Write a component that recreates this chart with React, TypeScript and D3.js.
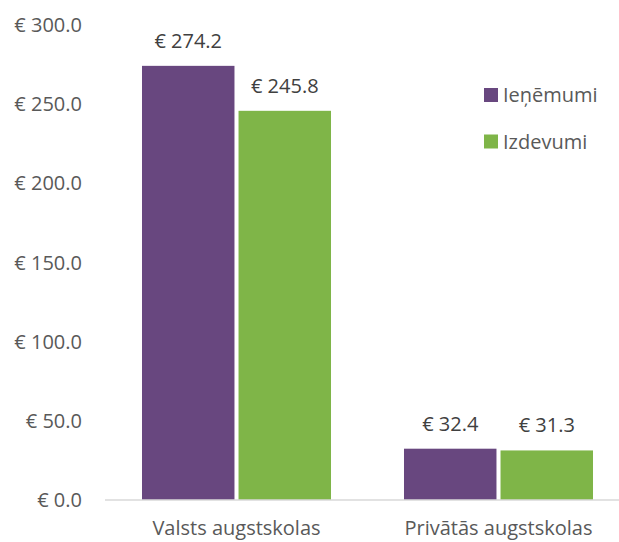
import React from "react";
import * as d3 from "d3";

const categories = ["Valsts augstskolas", "Privātās augstskolas"];
const seriesNames = ["Ieņēmumi", "Izdevumi"];
const ienemumi = [274.2, 32.4];
const izdevumi = [245.8, 31.3];
const yTicks = [0, 50, 100, 150, 200, 250, 300];

const colors = ["#68477f", "#7fb548"];
const W = 619;
const H = 542;
const FONT = "'Open Sans', sans-serif";
const FS = 20;

export default function App() {
  const series = [ienemumi, izdevumi];
  const y = d3.scaleLinear().domain([0, 300]).range([500, 25]);
  const x0 = d3
    .scaleBand<string>()
    .domain(categories)
    .range([105.5, 629.5])
    .paddingInner(0.2786)
    .paddingOuter(0.1393);
  const x1 = d3
    .scaleBand<string>()
    .domain(seriesNames)
    .range([0, x0.bandwidth()])
    .paddingInner(0.042);
  const fmt = (v: number) => "€ " + d3.format(".1f")(v);

  return (
    <svg
      width={W}
      height={H}
      style={{ position: "absolute", left: 0, top: 0, fontFamily: FONT }}
    >
      <rect width={W} height={H} fill="#fff" />
      {yTicks.map((t) => (
        <text
          key={t}
          x={82}
          y={y(t)}
          dy="0.35em"
          textAnchor="end"
          fontSize={FS}
          fill="#595959"
        >
          {fmt(t)}
        </text>
      ))}
      {categories.map((c, ci) =>
        seriesNames.map((s, si) => {
          const v = series[si][ci];
          const bx = (x0(c) ?? 0) + (x1(s) ?? 0);
          return (
            <g key={c + s}>
              <rect
                x={bx}
                y={y(v)}
                width={x1.bandwidth()}
                height={y(0) - y(v)}
                fill={colors[si]}
              />
              <text
                x={bx + x1.bandwidth() / 2}
                y={y(v) - 18}
                textAnchor="middle"
                fontSize={FS}
                fill="#404040"
              >
                {fmt(v)}
              </text>
            </g>
          );
        })
      )}
      <line x1={105} x2={619} y1={y(0)} y2={y(0)} stroke="#d9d9d9" strokeWidth={1.5} />
      {categories.map((c) => (
        <text
          key={c}
          x={(x0(c) ?? 0) + x0.bandwidth() / 2}
          y={535}
          textAnchor="middle"
          fontSize={FS}
          fill="#595959"
        >
          {c}
        </text>
      ))}
      {seriesNames.map((s, i) => (
        <g key={s} transform={`translate(484, ${88 + i * 46.5})`}>
          <rect width={14} height={14} fill={colors[i]} />
          <text x={19} y={7} dy="0.35em" fontSize={FS} fill="#595959">
            {s}
          </text>
        </g>
      ))}
    </svg>
  );
}
